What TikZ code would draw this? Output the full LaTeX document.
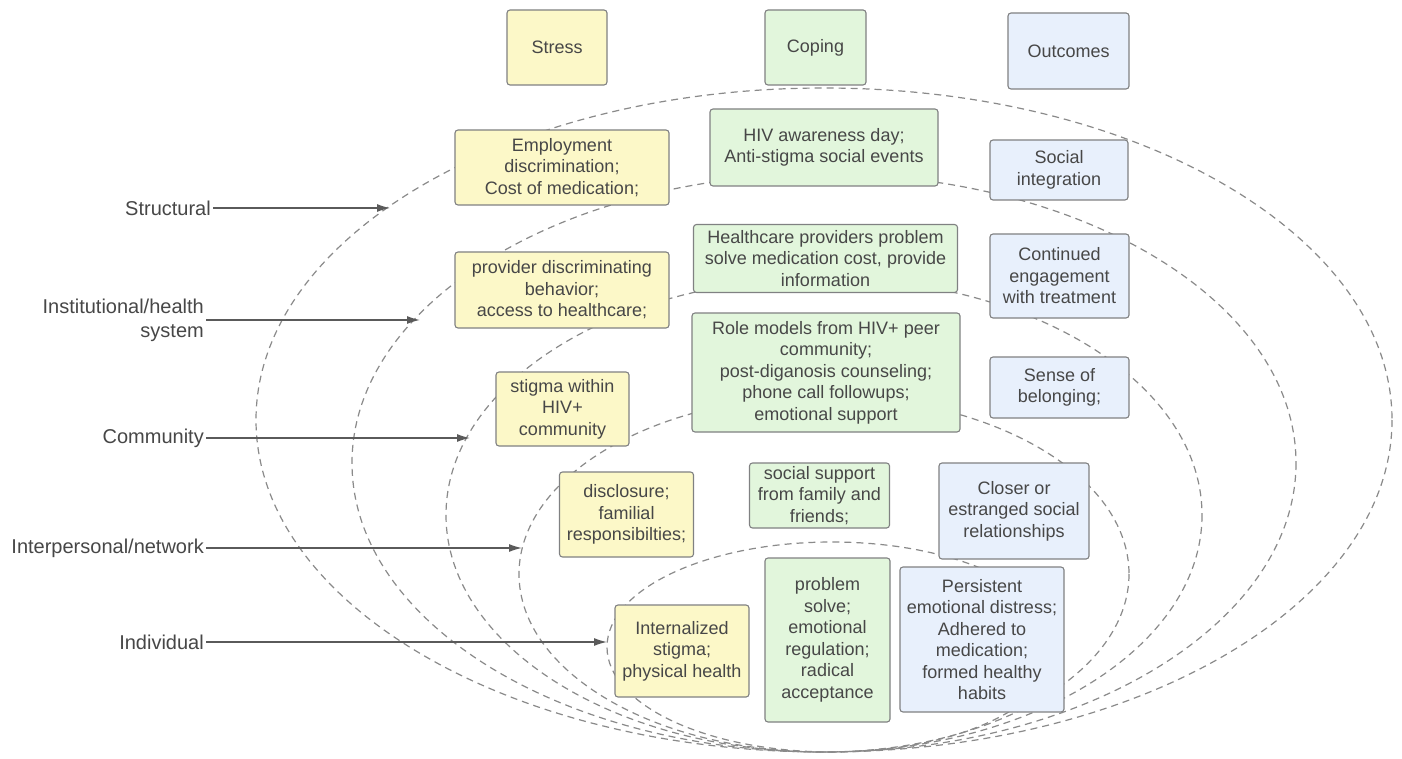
\documentclass[tikz,border=0pt]{standalone}
\usepackage{fontspec}
\setmainfont{Liberation Sans}
\usetikzlibrary{arrows.meta}
\definecolor{yfill}{HTML}{FCF8C8}
\definecolor{gfill}{HTML}{E2F6DC}
\definecolor{bfill}{HTML}{E8F0FC}
\definecolor{bord}{HTML}{808182}
\definecolor{txt}{HTML}{474747}
\definecolor{dash}{HTML}{8A8A8A}
\definecolor{arr}{HTML}{5A5A5A}
\begin{document}
\begin{tikzpicture}[x=1pt,y=-1pt,
  boxbase/.style={draw=bord, line width=1.1pt, rounded corners=3pt, align=center,
    text=txt, inner sep=1pt, font=\fontsize{18}{21.5}\selectfont},
  ybox/.style={boxbase, fill=yfill},
  gbox/.style={boxbase, fill=gfill},
  bbox/.style={boxbase, fill=bfill},
  level/.style={anchor=east, align=right, text=txt, inner sep=2pt,
    font=\fontsize{20}{24}\selectfont},
  loop/.style={draw=dash, line width=1.2pt, dash pattern=on 7pt off 5pt},
  levelarrow/.style={draw=arr, line width=1.3pt, -{Latex[length=13pt,width=8pt]}}]
\useasboundingbox (0,0) rectangle (1402,759);
\fill[white] (0,0) rectangle (1402,759);

% nested dashed loops
\draw[loop] (824,420) ellipse [x radius=568, y radius=332];
\draw[loop] (824,463) ellipse [x radius=472, y radius=289];
\draw[loop] (824,515) ellipse [x radius=378, y radius=237];
\draw[loop] (824,574) ellipse [x radius=305, y radius=178];
\draw[loop] (832,647) ellipse [x radius=225, y radius=105];

% arrow targets on the loops
\coordinate (t1) at (390,208);
\coordinate (t2) at (420,320);
\coordinate (t3) at (470,438);
\coordinate (t4) at (522,548);
\coordinate (t5) at (607,642);

% level labels
\node[level] (structural) at (213,208) {Structural};
\node[level] (institutional) at (206,320) {Institutional/health\\system};
\node[level] (community) at (206,438) {Community};
\node[level] (interpersonal) at (206,548) {Interpersonal/network};
\node[level] (individual) at (206,642) {Individual};

\draw[levelarrow] (structural.east) -- (t1);
\draw[levelarrow] (institutional.east) -- (t2);
\draw[levelarrow] (community.east) -- (t3);
\draw[levelarrow] (interpersonal.east) -- (t4);
\draw[levelarrow] (individual.east) -- (t5);

% headers
\node[ybox, minimum width=100, minimum height=75] (stress) at (557,47.5) {Stress};
\node[gbox, minimum width=101, minimum height=75] (coping) at (815.5,47.5) {Coping};
\node[bbox, minimum width=121, minimum height=76] (outcomes) at (1068.5,51) {Outcomes};

% structural row
\node[ybox, minimum width=214, minimum height=75] (emp) at (562,167.5) {Employment\\discrimination;\\Cost of medication;};
\node[gbox, minimum width=228, minimum height=77] (hiv) at (824,147.5) {HIV awareness day;\\Anti-stigma social events};
\node[bbox, minimum width=138, minimum height=60] (socint) at (1059,170) {Social\\integration};

% institutional row
\node[ybox, minimum width=214, minimum height=76] (prov) at (562,290) {provider discriminating\\behavior;\\access to healthcare;};
\node[gbox, minimum width=264, minimum height=68] (hcp) at (825.5,258.5) {Healthcare providers problem\\solve medication cost, provide\\information};
\node[bbox, minimum width=139, minimum height=84] (cont) at (1059.5,276) {Continued\\engagement\\with treatment};

% community row
\node[ybox, minimum width=133, minimum height=74] (stig) at (562.5,409) {stigma within\\HIV+\\community};
\node[gbox, minimum width=268, minimum height=119] (role) at (826,372.5) {Role models from HIV+ peer\\community;\\post-diganosis counseling;\\phone call followups;\\emotional support};
\node[bbox, minimum width=139, minimum height=61] (sense) at (1059.5,387.5) {Sense of\\belonging;};

% interpersonal row
\node[ybox, minimum width=134, minimum height=85] (discl) at (626.5,514.5) {disclosure;\\familial\\responsibilties;};
\node[gbox, minimum width=140, minimum height=65] (socsup) at (819.5,495.5) {social support\\from family and\\friends;};
\node[bbox, minimum width=150, minimum height=96] (closer) at (1014,511) {Closer or\\estranged social\\relationships};

% individual row
\node[ybox, minimum width=134, minimum height=92] (intern) at (682,651) {Internalized\\stigma;\\physical health};
\node[gbox, minimum width=125, minimum height=164] (prob) at (827.5,640) {problem\\solve;\\emotional\\regulation;\\radical\\acceptance};
\node[bbox, minimum width=164, minimum height=145] (pers) at (982,639.5) {Persistent\\emotional distress;\\Adhered to\\medication;\\formed healthy\\habits};
\end{tikzpicture}
\end{document}
